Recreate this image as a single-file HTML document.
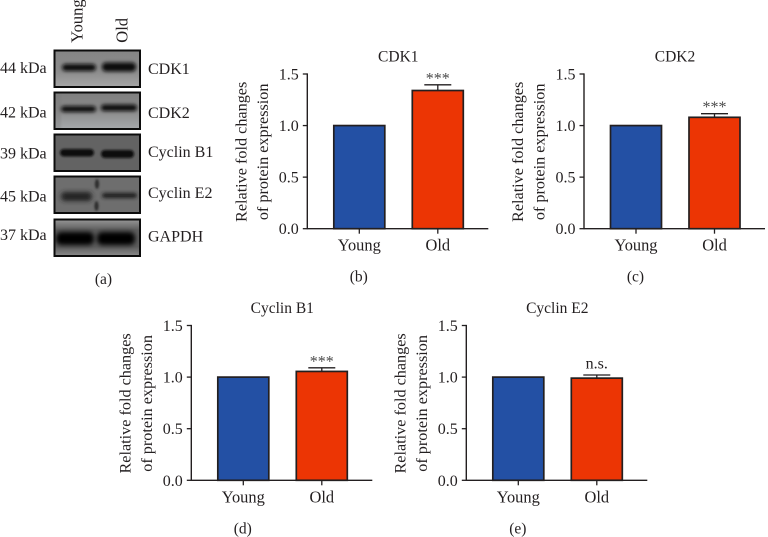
<!DOCTYPE html>
<html>
<head>
<meta charset="utf-8">
<style>
html,body{margin:0;padding:0;background:#fff;}
#fig{display:block;width:768px;height:537px;font-family:"Liberation Serif",serif;fill:#231f20;}
text{font-family:"Liberation Serif",serif;}
</style>
</head>
<body>
<svg id="fig" xmlns="http://www.w3.org/2000/svg" width="768" height="537" viewBox="0 0 768 537">
<defs>
<filter id="b1" filterUnits="userSpaceOnUse" x="0" y="0" width="768" height="537"><feGaussianBlur stdDeviation="1.8"/></filter>
<filter id="b2" filterUnits="userSpaceOnUse" x="0" y="0" width="768" height="537"><feGaussianBlur stdDeviation="1.1"/></filter>
<filter id="b3" filterUnits="userSpaceOnUse" x="0" y="0" width="768" height="537"><feGaussianBlur stdDeviation="2.4"/></filter>
<linearGradient id="g1" x1="0" y1="0" x2="0" y2="1"><stop offset="0" stop-color="#858585"/><stop offset="0.6" stop-color="#8d8d8d"/><stop offset="1" stop-color="#a6a6a6"/></linearGradient>
<linearGradient id="g2" x1="0" y1="0" x2="0" y2="1"><stop offset="0" stop-color="#7e7e7e"/><stop offset="0.5" stop-color="#8a8a8a"/><stop offset="1" stop-color="#a5a8ab"/></linearGradient>
<linearGradient id="g5" x1="0" y1="0" x2="0" y2="1"><stop offset="0" stop-color="#9a9a9a"/><stop offset="0.3" stop-color="#5c5c5c"/><stop offset="0.75" stop-color="#5c5c5c"/><stop offset="1" stop-color="#8a8a8a"/></linearGradient>
<clipPath id="c1"><rect x="54" y="50" width="86" height="37"/></clipPath>
<clipPath id="c2"><rect x="54" y="92" width="86" height="37"/></clipPath>
<clipPath id="c3"><rect x="54" y="134" width="86" height="37"/></clipPath>
<clipPath id="c4"><rect x="54" y="176" width="86" height="37"/></clipPath>
<clipPath id="c5"><rect x="54" y="219" width="86" height="37"/></clipPath>
</defs>

<g id="western-blot">
<text transform="translate(82.5,42.7) rotate(-90)" font-size="16.5">Young</text>
<text transform="translate(127.7,42.7) rotate(-90)" font-size="16.5">Old</text>

<g>
<g clip-path="url(#c1)">
<rect x="54" y="50" width="86" height="37" fill="url(#g1)"/>
<rect x="62" y="64" width="34" height="7" rx="3.5" fill="#101010" filter="url(#b1)"/>
<rect x="102" y="62.5" width="34" height="9" rx="4" fill="#080808" filter="url(#b1)"/>
</g>
<rect x="54.5" y="50.5" width="85.5" height="36.5" fill="none" stroke="#0c0c0c" stroke-width="2"/>
</g>

<g>
<g clip-path="url(#c2)">
<rect x="54" y="92" width="86" height="37" fill="url(#g2)"/>
<rect x="54" y="92" width="7" height="37" fill="#777" opacity="0.3" filter="url(#b2)"/>
<rect x="61" y="106" width="35" height="6" rx="3" fill="#101010" filter="url(#b1)"/>
<rect x="101" y="104.5" width="36" height="6.5" rx="3" fill="#080808" filter="url(#b1)"/>
</g>
<rect x="54.5" y="92.5" width="85.5" height="36.5" fill="none" stroke="#0c0c0c" stroke-width="2"/>
</g>

<g>
<g clip-path="url(#c3)">
<rect x="54" y="134" width="86" height="37" fill="#636363"/>
<rect x="60" y="149" width="34" height="7.5" rx="3.7" fill="#0a0a0a" filter="url(#b2)"/>
<rect x="101" y="150" width="33" height="8" rx="4" fill="#0a0a0a" filter="url(#b2)"/>
</g>
<rect x="54.5" y="134.5" width="85.5" height="36.5" fill="none" stroke="#0c0c0c" stroke-width="2"/>
</g>

<g>
<g clip-path="url(#c4)">
<rect x="54" y="176" width="86" height="37" fill="#6e6e6e"/>
<rect x="61" y="192" width="31" height="9" rx="4" fill="#242424" filter="url(#b3)"/>
<rect x="102" y="193" width="35" height="5" rx="2.5" fill="#1c1c1c" filter="url(#b1)"/>
<ellipse cx="97" cy="184" rx="2" ry="5" fill="#2c2c2c" filter="url(#b2)"/>
<ellipse cx="96.5" cy="206" rx="2" ry="5" fill="#2c2c2c" filter="url(#b2)"/>
</g>
<rect x="54.5" y="176.5" width="85.5" height="36.5" fill="none" stroke="#0c0c0c" stroke-width="2"/>
</g>

<g>
<g clip-path="url(#c5)">
<rect x="54" y="219" width="86" height="37" fill="url(#g5)"/>
<rect x="56" y="232" width="38" height="13" rx="5" fill="#040404" filter="url(#b3)"/>
<rect x="97" y="232" width="38" height="13" rx="5" fill="#040404" filter="url(#b3)"/>
</g>
<rect x="54.5" y="219.5" width="85.5" height="36.5" fill="none" stroke="#0c0c0c" stroke-width="2"/>
</g>

<text x="0" y="73" font-size="16">44 kDa</text>
<text x="0" y="117.7" font-size="16">42 kDa</text>
<text x="0" y="158.3" font-size="16">39 kDa</text>
<text x="0" y="201.7" font-size="16">45 kDa</text>
<text x="0" y="240" font-size="16">37 kDa</text>

<text x="148" y="74" font-size="16">CDK1</text>
<text x="148" y="118" font-size="16">CDK2</text>
<text x="148" y="157" font-size="16">Cyclin B1</text>
<text x="148" y="198" font-size="16">Cyclin E2</text>
<text x="148" y="241.7" font-size="16">GAPDH</text>

<text x="103.5" y="284" font-size="15.5" text-anchor="middle">(a)</text>
</g>

<g id="charts"></g>
</svg>

<script>
const categories = ['Young', 'Old'];
const chartTitles = ['CDK1', 'CDK2', 'Cyclin B1', 'Cyclin E2'];
const panelLabels = ['(b)', '(c)', '(d)', '(e)'];
const youngValues = [1.0, 1.0, 1.0, 1.0];
const oldValues = [1.34, 1.08, 1.055, 0.99];
const oldErrors = [0.055, 0.035, 0.035, 0.03];
const significance = ['***', '***', '***', 'n.s.'];
const yTicks = [0, 0.5, 1.0, 1.5];
const yTickLabels = ['0.0', '0.5', '1.0', '1.5'];

const NS = 'http://www.w3.org/2000/svg';
const root = document.getElementById('charts');
const layouts = [
  { left: 307.3, base: 228.7, top: 74 },
  { left: 584, base: 228.7, top: 74 },
  { left: 191.3, base: 480.3, top: 325.5 },
  { left: 466.3, base: 480.3, top: 325.5 }
];
const barColors = ['#2350a4', '#ec3504'];
const INK = '#231f20';

function make(parent, tag, attrs, txt) {
  const el = document.createElementNS(NS, tag);
  for (const k in attrs) el.setAttribute(k, attrs[k]);
  if (txt !== undefined) el.textContent = txt;
  parent.appendChild(el);
  return el;
}

chartTitles.forEach(function (title, i) {
  const L = layouts[i];
  const yScale = function (v) { return L.base - (v / 1.5) * (L.base - L.top); };
  const xCenter = function (c) { return L.left + 52 + c * 78.5; };
  const barW = 51;
  const values = [youngValues[i], oldValues[i]];

  const g = make(root, 'g', {});
  
  

  const titleEl = make(g, 'text', { x: L.left + 91, y: L.top - 12.5, 'font-size': 15.5, 'text-anchor': 'middle' }, title);
  
  

  categories.forEach(function (cat, c) {
    const cx = xCenter(c);
    const bar = make(g, 'rect', {
      x: cx - barW / 2, y: yScale(values[c]), width: barW, height: L.base - yScale(values[c]),
      fill: barColors[c], stroke: INK, 'stroke-width': 1.7
    });
    
    

    const tick = make(g, 'line', { x1: cx, x2: cx, y1: L.base, y2: L.base + 5, stroke: INK, 'stroke-width': 1.3 });
    
    

    const lab = make(g, 'text', { x: cx, y: L.base + 22, 'font-size': 16.4, 'text-anchor': 'middle' }, cat);
    
    
  });

  const oldX = xCenter(1);
  const errTop = yScale(oldValues[i] + oldErrors[i]);
  const errStem = make(g, 'line', { x1: oldX, x2: oldX, y1: yScale(oldValues[i]), y2: errTop, stroke: INK, 'stroke-width': 1.3 });
  
  
  const errCap = make(g, 'line', { x1: oldX - 13.5, x2: oldX + 13.5, y1: errTop, y2: errTop, stroke: INK, 'stroke-width': 1.3 });
  
  

  const isStars = significance[i] === '***';
  const sig = make(g, 'text', {
    x: oldX, y: errTop - (isStars ? 1.5 : 6.5), 'font-size': 16, 'text-anchor': 'middle',
    fill: isStars ? '#4a4a4a' : INK
  }, significance[i]);
  
  

  const yAxis = make(g, 'line', { x1: L.left, x2: L.left, y1: L.top - 0.6, y2: L.base + 0.6, stroke: INK, 'stroke-width': 1.4 });
  
  
  const xAxis = make(g, 'line', { x1: L.left, x2: L.left + 181, y1: L.base, y2: L.base, stroke: INK, 'stroke-width': 1.4 });
  
  

  yTicks.forEach(function (t, k) {
    const y = yScale(t);
    const tk = make(g, 'line', { x1: L.left - 4.5, x2: L.left, y1: y, y2: y, stroke: INK, 'stroke-width': 1.3 });
    
    
    const tl = make(g, 'text', { x: L.left - 8.5, y: y + 5.5, 'font-size': 16, 'text-anchor': 'end' }, yTickLabels[k]);
    
    
  });

  const midY = (L.base + L.top) / 2 + 0.5;
  const yt1 = make(g, 'text', {
    transform: 'translate(' + (L.left - 61) + ',' + midY + ') rotate(-90)',
    'font-size': 16.2, 'text-anchor': 'middle'
  }, 'Relative fold changes');
  
  
  const yt2 = make(g, 'text', {
    transform: 'translate(' + (L.left - 39.5) + ',' + midY + ') rotate(-90)',
    'font-size': 16.2, 'text-anchor': 'middle'
  }, 'of protein expression');
  
  

  const pl = make(g, 'text', { x: L.left + 51.5, y: L.base + 53, 'font-size': 15.5, 'text-anchor': 'middle' }, panelLabels[i]);
  
  
});
</script>
</body>
</html>
